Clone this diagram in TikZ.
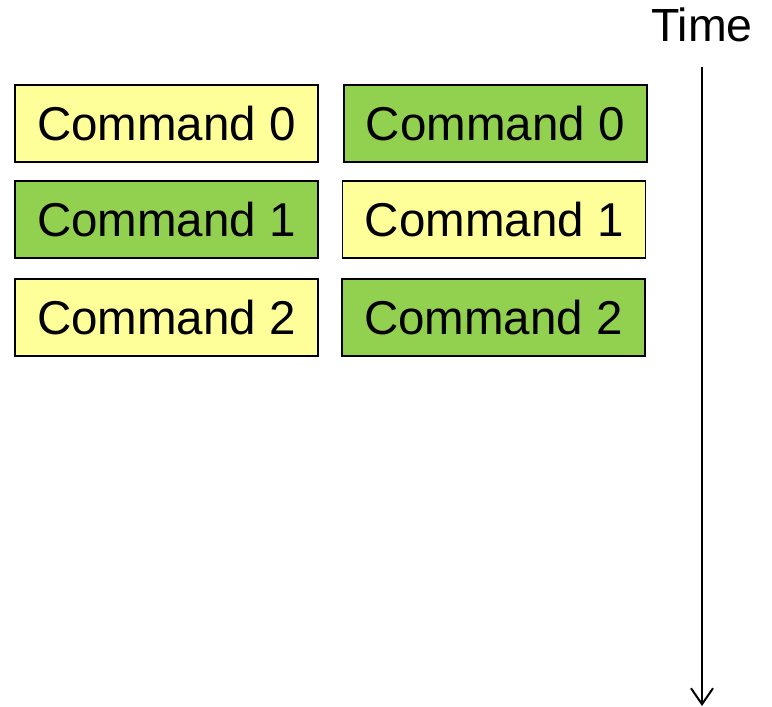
\documentclass[tikz,border=0pt]{standalone}
\usepackage{fontspec}
\setmainfont{Liberation Sans}
\usetikzlibrary{arrows.meta}
\definecolor{cmdyellow}{HTML}{FFFF99}
\definecolor{cmdgreen}{HTML}{92D050}
\begin{document}
\begin{tikzpicture}[x=1pt,y=-1pt,
  cmdbox/.style={draw=black, line width=1.5pt, minimum width=303pt, minimum height=77pt,
    inner sep=0pt, font=\fontsize{47.5}{57}\selectfont},
  yel/.style={cmdbox, fill=cmdyellow},
  grn/.style={cmdbox, fill=cmdgreen}]
\useasboundingbox (0,0) rectangle (772,707);
% first column
\node[yel] (a0) at (166.5,123.5) {Command 0};
\node[grn] (a1) at (166.5,219.5) {Command 1};
\node[yel] (a2) at (166.5,317.5) {Command 2};
% second column
\node[grn] (b0) at (495.3,123.5) {Command 0};
\node[yel] (b1) at (494.2,219.7) {Command 1};
\node[grn] (b2) at (493.4,317.5) {Command 2};
% time axis
\node[font=\fontsize{46.5}{56}\selectfont, anchor=base] (time) at (702,41) {Time};
\coordinate (ttop) at (702,67);
\coordinate (tend) at (702,706);
\draw[line width=2pt, -{Straight Barb[length=16pt,width=22pt,line width=2pt]}] (ttop) -- (tend);
\end{tikzpicture}
\end{document}
